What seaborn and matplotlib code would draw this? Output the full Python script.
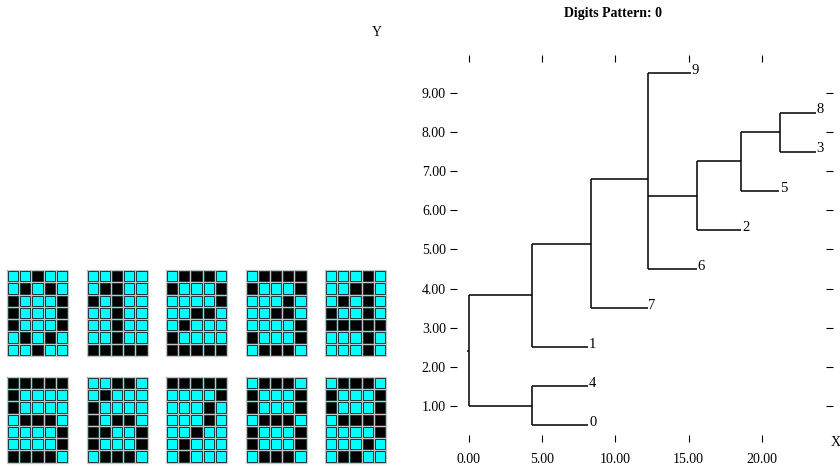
import matplotlib
matplotlib.use('Agg')
import matplotlib.pyplot as plt
import seaborn as sns
import numpy as np
from matplotlib.colors import ListedColormap

W, H = 840, 466

# 5x7 bitmaps, '1' = black cell, '0' = cyan cell
digit_0 = ["00100", "01010", "10001", "10001", "10001", "01010", "00100"]
digit_1 = ["00100", "01100", "10100", "00100", "00100", "00100", "11111"]
digit_2 = ["01110", "10001", "00001", "00110", "01000", "10000", "11111"]
digit_3 = ["01111", "10001", "00010", "00110", "00001", "10001", "01110"]
digit_4 = ["00010", "00110", "01010", "10010", "11111", "00010", "00010"]
digit_5 = ["11111", "10000", "10000", "01110", "00001", "00001", "11110"]
digit_6 = ["00110", "01000", "10000", "10110", "11001", "10001", "01110"]
digit_7 = ["11111", "00001", "00010", "00010", "00100", "01000", "01000"]
digit_8 = ["01110", "10001", "10001", "01110", "10001", "10001", "01110"]
digit_9 = ["01110", "10001", "10001", "01111", "00001", "00010", "01100"]
digits = [digit_0, digit_1, digit_2, digit_3, digit_4,
          digit_5, digit_6, digit_7, digit_8, digit_9]

# dendrogram (horizontal, root on the left)
leaf_labels = ['0', '4', '1', '7', '6', '2', '5', '3', '8', '9']
leaf_y = [0.5, 1.5, 2.5, 3.5, 4.5, 5.5, 6.5, 7.5, 8.5, 9.5]
leaf_end = [8.15, 8.15, 8.15, 12.2, 15.55, 18.6, 21.2, 23.7, 23.7, 15.15]
node_names = ['n5', 'n4', 'n3', 'n2', 'n1', 'nb', 'na', 'root']
node_x = [21.24, 18.6, 15.55, 12.2, 8.33, 4.28, 4.28, 0.0]
node_children = [['8', '3'], ['5', 'n5'], ['2', 'n4'], ['6', 'n3', '9'],
                 ['7', 'n2'], ['1', 'n1'], ['4', '0'], ['na', 'nb']]

x_ticks = [0, 5, 10, 15, 20]
y_ticks = [1, 2, 3, 4, 5, 6, 7, 8, 9]

plt.rcParams['font.family'] = ['Liberation Serif', 'DejaVu Serif']

fig = plt.figure(figsize=(W / 100, H / 100), dpi=100)

# ---- digit bitmaps ----
cmap = ListedColormap(['#00ffff', '#000000'])
for i, pat in enumerate(digits):
    grid = np.array([[int(c) for c in row] for row in pat])
    col, row = i % 5, i // 5
    left = 7 + col * 79.5
    top = 270 + row * 106.7
    ax = fig.add_axes([left / W, 1 - (top + 86) / H, 61 / W, 86 / H])
    sns.heatmap(grid, cmap=cmap, vmin=0, vmax=1, cbar=False,
                linewidths=1.9, linecolor='#062a2a',
                xticklabels=False, yticklabels=False, ax=ax)
    ax.hlines(range(8), 0, 5, color='#c4c4c4', lw=0.9, clip_on=False)
    ax.vlines(range(6), 0, 7, color='#c4c4c4', lw=0.9, clip_on=False)
    ax.axis('off')

# ---- dendrogram ----
px_x0, px_unit_x = 469, 14.64
px_y1, px_unit_y = 405.8, 39.1
ax_l, ax_r, ax_t, ax_b = 457, 826, 62, 435
ax = fig.add_axes([ax_l / W, 1 - ax_b / H, (ax_r - ax_l) / W, (ax_b - ax_t) / H])
ax.set_xlim((ax_l - px_x0) / px_unit_x, (ax_r - px_x0) / px_unit_x)
ax.set_ylim(1 - (ax_b - px_y1) / px_unit_y, 1 + (px_y1 - ax_t) / px_unit_y)

pos_y = dict(zip(leaf_labels, leaf_y))
pos_x = dict(zip(leaf_labels, leaf_end))
for name, x, kids in zip(node_names, node_x, node_children):
    ys = [pos_y[k] for k in kids]
    pos_y[name] = float(np.mean(ys))
    pos_x[name] = x
    ax.vlines(x, min(ys), max(ys), color='black', lw=1.1)
    for k in kids:
        ax.hlines(pos_y[k], x, pos_x[k], color='black', lw=1.1)
ax.hlines(pos_y['root'], -0.12, 0, color='black', lw=1.1)

for lab, y, xe in zip(leaf_labels, leaf_y, leaf_end):
    ax.text(xe + 0.05, y - 0.02, lab, ha='left', va='baseline', fontsize=10.5)

for s in ax.spines.values():
    s.set_visible(False)
ax.set_xticks(x_ticks)
ax.set_xticklabels([f'{v:.2f}' for v in x_ticks])
ax.set_yticks(y_ticks)
ax.set_yticklabels([f'{v:.2f}' for v in y_ticks])
ax.tick_params(axis='both', direction='out', length=5, width=0.8,
               top=True, right=True, labeltop=False, labelright=False,
               labelsize=10, pad=3)
ax.tick_params(axis='x', pad=8)

fig.text(613 / W, 1 - 14 / H, 'Digits Pattern: 0', ha='center', va='center',
         fontsize=10, fontweight='bold')
fig.text(377 / W, 1 - 32 / H, 'Y', ha='center', va='center', fontsize=10)
fig.text(836 / W, 1 - 442 / H, 'X', ha='center', va='center', fontsize=10)

fig.savefig('out.png', dpi=100)
